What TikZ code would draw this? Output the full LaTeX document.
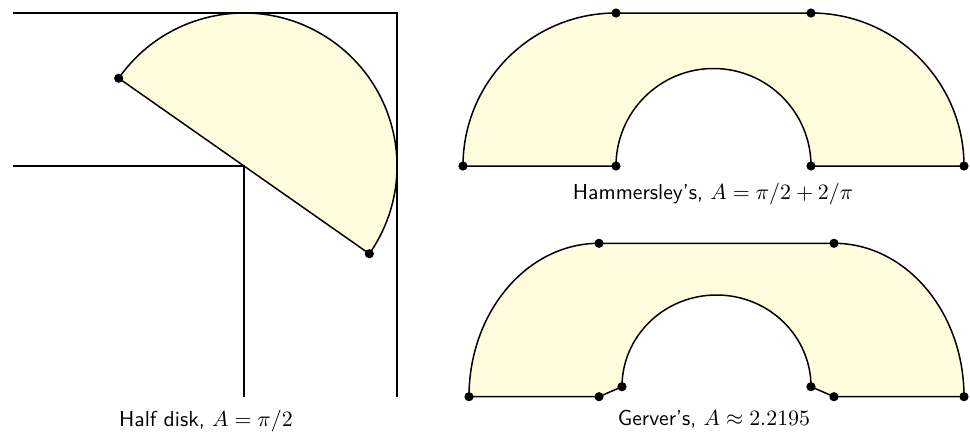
\documentclass[tikz,border=0pt]{standalone}
\definecolor{sofafill}{RGB}{255,253,222}
\begin{document}
\begin{tikzpicture}[x=0.5pt,y=0.5pt,
  sofa/.style={fill=sofafill, draw=black, line width=0.75pt, line join=round},
  wall/.style={draw=black, line width=0.75pt},
  dotmark/.style={fill=black},
  lab/.style={font=\fontsize{10.8}{13}\selectfont\sffamily, inner sep=0pt, anchor=base}]
\useasboundingbox (0,0) rectangle (970,436);
% ---------- Half disk ----------
\coordinate (hc) at (244,270);
\path (hc) ++(145:153) coordinate (ha);
\path (hc) ++(-35:153) coordinate (hb);
\path[sofa] (hb) arc[start angle=-35,end angle=145,radius=153] -- cycle;
\draw[wall] (13,423) -- (397,423) -- (397,39);
\draw[wall] (13,270) -- (244,270) -- (244,39);
\foreach \p in {ha,hb} \fill[dotmark] (\p) circle (4.6);
\node[lab] (l1) at (206,10) {Half disk, $A=\pi/2$};
% ---------- Hammersley ----------
\coordinate (m1) at (463,270);
\coordinate (m2) at (616,270);
\coordinate (m3) at (811,270);
\coordinate (m4) at (964,270);
\coordinate (m5) at (616,423);
\coordinate (m6) at (811,423);
\path[sofa] (m1) arc[start angle=180,end angle=90,radius=153] -- (m6)
  arc[start angle=90,end angle=0,radius=153] -- (m3)
  arc[start angle=0,end angle=180,radius=97.5] -- cycle;
\foreach \p in {m1,m2,m3,m4,m5,m6} \fill[dotmark] (\p) circle (4.6);
\node[lab] (l2) at (713,237) {Hammersley's, $A=\pi/2+2/\pi$};
% ---------- Gerver ----------
\coordinate (g1) at (469,39.3);
\coordinate (g2) at (599,39.3);
\coordinate (g3) at (622,49.3);
\coordinate (g4) at (811,49.3);
\coordinate (g5) at (834,39.3);
\coordinate (g6) at (964,39.3);
\coordinate (g7) at (599,192.7);
\coordinate (g8) at (834,192.7);
\path[sofa] (g1) arc[start angle=180,end angle=90,x radius=130,y radius=153.4] -- (g8)
  arc[start angle=90,end angle=0,x radius=130,y radius=153.4] -- (g5) -- (g4)
  arc[start angle=0,end angle=180,x radius=94.5,y radius=91.7] -- (g2) -- cycle;
\foreach \p in {g1,g2,g3,g4,g5,g6,g7,g8} \fill[dotmark] (\p) circle (4.6);
\node[lab] (l3) at (714,10.5) {Gerver's, $A\approx 2.2195$};
\end{tikzpicture}
\end{document}
